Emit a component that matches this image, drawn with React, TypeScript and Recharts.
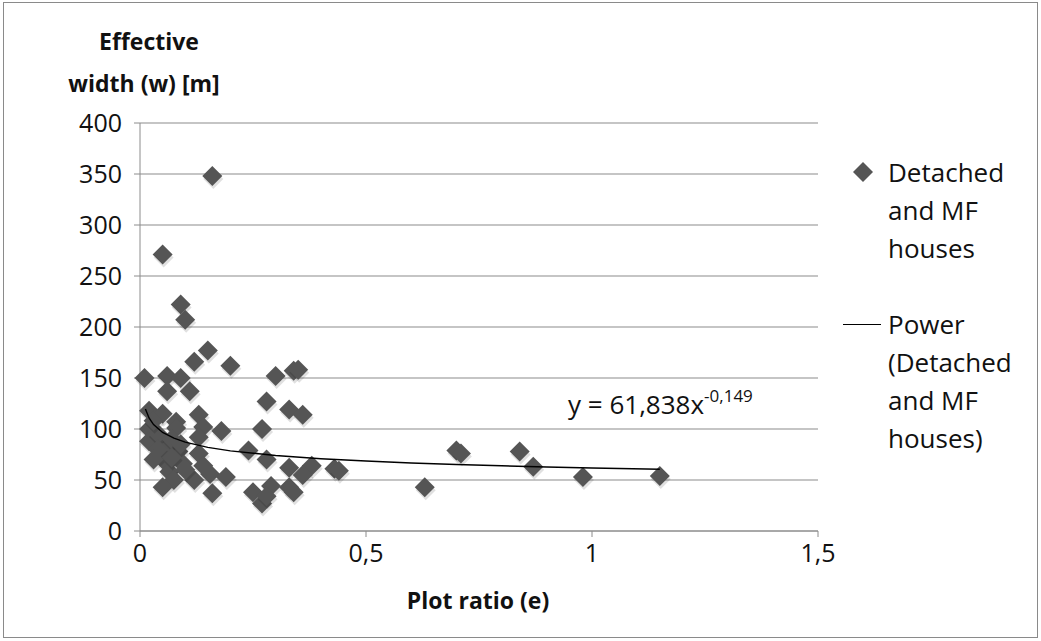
import { ScatterChart, Scatter, XAxis, YAxis, CartesianGrid } from "recharts";

const FONT = "'Open Sans', Lato, sans-serif";

// Detached and MF houses: plot ratio (e) vs effective width (w) [m]
const plotRatio = [
  0.16, 0.05, 0.09, 0.1, 0.15, 0.12, 0.2, 0.01, 0.06, 0.09, 0.06, 0.11, 0.3, 0.34,
  0.35, 0.28, 0.33, 0.36, 0.02, 0.05, 0.13, 0.08, 0.02, 0.08, 0.14, 0.27, 0.18,
  0.13, 0.02, 0.06, 0.04, 0.03, 0.24, 0.05, 0.085, 0.13, 0.28, 0.06, 0.095, 0.14,
  0.33, 0.38, 0.36, 0.43, 0.44, 0.065, 0.155, 0.19, 0.12, 0.075, 0.05, 0.16, 0.25,
  0.27, 0.29, 0.28, 0.33, 0.34, 0.63, 0.7, 0.71, 0.84, 0.87, 0.98, 1.15, 0.04,
  0.07, 0.09, 0.03, 0.07, 0.1,
];
const effWidth = [
  348, 271, 222, 207, 177, 166, 162, 150, 152, 150, 137, 137, 152, 157, 158, 127,
  119, 114, 118, 115, 114, 107, 100, 101, 102, 100, 98, 92, 88, 86, 95, 108, 79,
  76, 78, 76, 70, 66, 66, 64, 62, 64, 55, 61, 59, 58, 56, 53, 50, 50, 43, 37, 38,
  27, 44, 34, 43, 38, 43, 79, 76, 78, 63, 53, 54, 80, 90, 85, 70, 72, 60,
];

// Power trend line, y = 61,838x^-0,149
const trendX = [0.012, 0.02, 0.03, 0.05, 0.075, 0.1, 0.15, 0.2, 0.3, 0.4, 0.5, 0.6, 0.7, 0.8, 0.9, 1.0, 1.15];
const trendY = [119.5, 110.8, 104.3, 96.6, 91.0, 87.1, 82.0, 78.6, 74.0, 70.9, 68.6, 66.7, 65.2, 63.9, 62.8, 61.8, 60.6];

const xTicks = [0, 0.5, 1, 1.5];
const yTicks = [0, 50, 100, 150, 200, 250, 300, 350, 400];

const points = plotRatio.map((x, i) => ({ x, y: effWidth[i] }));
const trend = trendX.map((x, i) => ({ x, y: trendY[i] }));

const R = 10;

function Diamond(props: any) {
  const { cx, cy } = props;
  if (cx == null || cy == null) return null;
  const pts = (dx: number, dy: number) =>
    `${cx + dx},${cy + dy - R} ${cx + dx + R},${cy + dy} ${cx + dx},${cy + dy + R} ${cx + dx - R},${cy + dy}`;
  return (
    <g>
      <polygon points={pts(1, 3)} fill="#000" fillOpacity={0.12} />
      <polygon points={pts(0, 0)} fill="#555555" />
    </g>
  );
}

const fmt = (v: number) => String(v).replace(".", ",");

export default function App() {
  return (
    <div style={{ position: "absolute", left: 0, top: 0, width: 1041, height: 641, background: "#fff", fontFamily: FONT, color: "#111" }}>
      <div style={{ position: "absolute", left: 3, top: 2, width: 1033, height: 634, border: "1px solid #8a8a8a" }} />
      <ScatterChart width={1041} height={641} margin={{ top: 123, right: 223, left: 0, bottom: 0 }}>
        <CartesianGrid vertical={false} stroke="#8c8c8c" strokeWidth={1.2} />
        <XAxis
          type="number"
          dataKey="x"
          domain={[0, 1.5]}
          ticks={xTicks}
          tickFormatter={fmt}
          height={110}
          stroke="#8c8c8c"
          tickSize={6}
          tick={{ fill: "#111", fontSize: 25, fontFamily: FONT, dy: 5 }}
        />
        <YAxis
          type="number"
          dataKey="y"
          domain={[0, 400]}
          ticks={yTicks}
          width={140}
          stroke="#8c8c8c"
          tickSize={6}
          tick={{ fill: "#111", fontSize: 25, fontFamily: FONT, dx: -10 }}
        />
        <Scatter data={points} shape={<Diamond />} isAnimationActive={false} />
        <Scatter
          data={trend}
          line={{ stroke: "#000", strokeWidth: 1.4 }}
          lineType="joint"
          shape={() => null}
          isAnimationActive={false}
        />
      </ScatterChart>

      <div style={{ position: "absolute", left: 44, top: 20, width: 200, textAlign: "center", fontWeight: 700, fontSize: 23, lineHeight: "42px" }}>
        <div style={{ paddingLeft: 10 }}>Effective</div>
        <div>width (w) [m]</div>
      </div>

      <div style={{ position: "absolute", left: 378, top: 582, width: 200, textAlign: "center", fontWeight: 700, fontSize: 23, lineHeight: "36px" }}>
        Plot ratio (e)
      </div>

      <div style={{ position: "absolute", left: 568, top: 380, fontSize: 26, lineHeight: "36px", whiteSpace: "nowrap" }}>
        y = 61,838x<sup style={{ fontSize: 17, position: "relative", top: -2 }}>-0,149</sup>
      </div>

      <div style={{ position: "absolute", left: 843, top: 153, fontSize: 26, lineHeight: "38px" }}>
        <div style={{ position: "relative", paddingLeft: 45 }}>
          <svg width={20} height={20} style={{ position: "absolute", left: 10, top: 9 }}>
            <polygon points="10,0 20,10 10,20 0,10" fill="#555" />
          </svg>
          Detached
          <br />
          and MF
          <br />
          houses
        </div>
        <div style={{ position: "relative", paddingLeft: 45, marginTop: 38 }}>
          <div style={{ position: "absolute", left: 0, top: 19, width: 38, borderTop: "1.4px solid #000" }} />
          Power
          <br />
          (Detached
          <br />
          and MF
          <br />
          houses)
        </div>
      </div>
    </div>
  );
}
